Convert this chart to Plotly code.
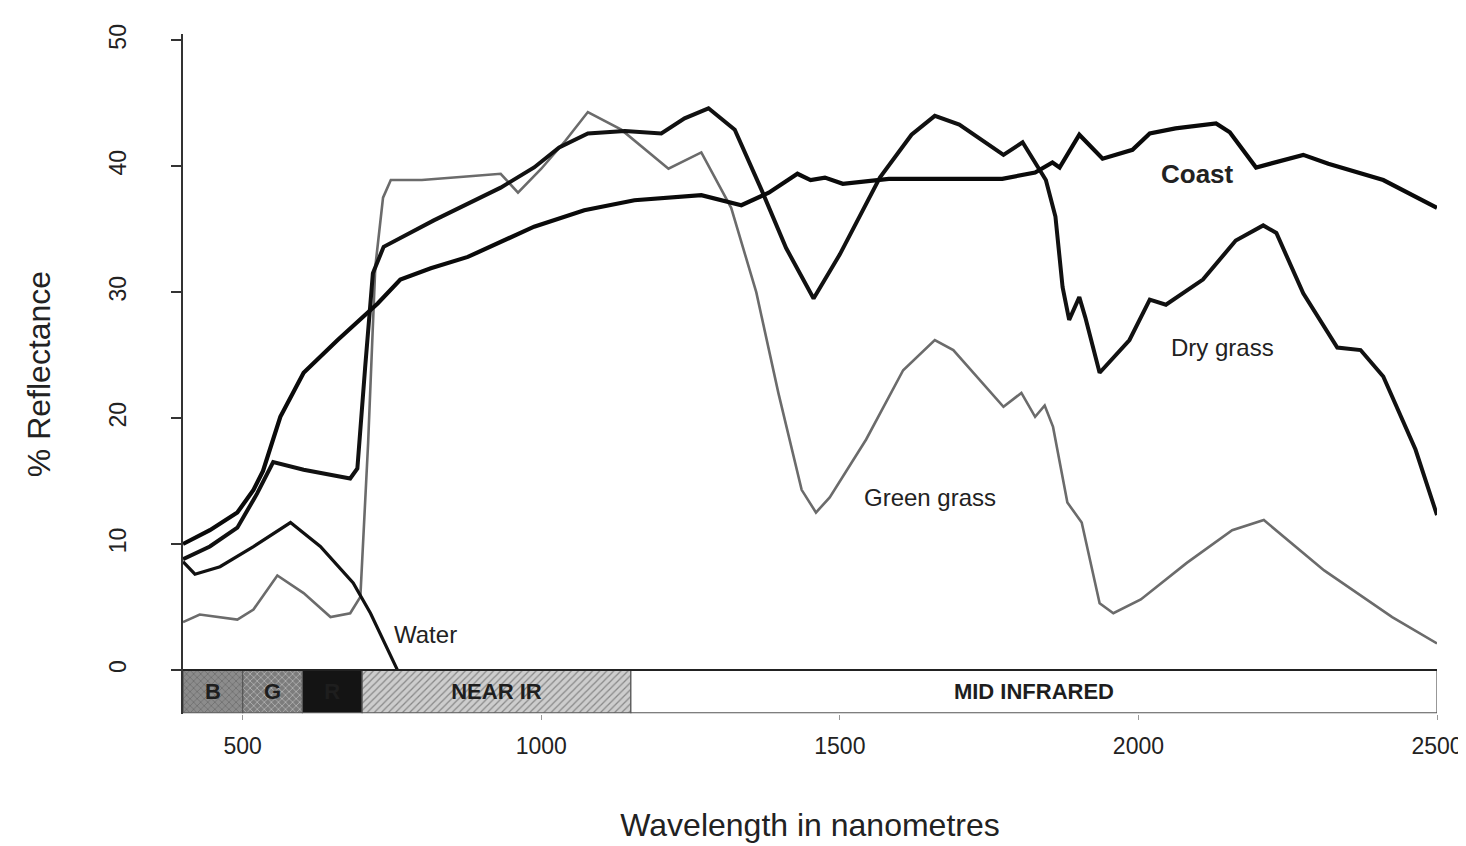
import plotly.graph_objects as go

# ---------------- data ----------------
coast_wl = [400, 445, 491, 518, 534, 563, 602, 659, 726, 764, 815, 877, 988, 1072, 1156, 1268,
            1335, 1381, 1429, 1451, 1475, 1505, 1582, 1700, 1772, 1827, 1856, 1868, 1901, 1940,
            1990, 2019, 2062, 2130, 2153, 2197, 2276, 2318, 2410, 2500]
coast_val = [10.0, 11.1, 12.5, 14.3, 15.8, 20.1, 23.6, 26.2, 29.1, 31.0, 31.9, 32.8, 35.2, 36.5, 37.3, 37.7,
             36.9, 37.9, 39.4, 38.9, 39.1, 38.6, 39.0, 39.0, 39.0, 39.5, 40.3, 39.9, 42.5, 40.6,
             41.3, 42.6, 43.0, 43.4, 42.7, 39.9, 40.9, 40.2, 38.9, 36.7]

dry_wl = [400, 445, 491, 524, 551, 602, 680, 692, 705, 718, 736, 820, 932, 988, 1030, 1078, 1140,
          1201, 1240, 1280, 1324, 1369, 1410, 1456, 1500, 1567, 1620, 1659, 1700, 1774, 1806, 1845,
          1861, 1873, 1884, 1901, 1911, 1935, 1985, 2019, 2046, 2108, 2163, 2209, 2231, 2276, 2333,
          2372, 2410, 2464, 2500]
dry_val = [8.8, 9.8, 11.3, 14.0, 16.5, 15.9, 15.2, 16.0, 24.0, 31.5, 33.6, 35.7, 38.3, 39.9, 41.5, 42.6, 42.8,
           42.6, 43.8, 44.6, 42.9, 38.1, 33.5, 29.5, 33.0, 39.1, 42.5, 44.0, 43.3, 40.9, 41.9, 38.9,
           36.0, 30.4, 27.8, 29.6, 28.0, 23.6, 26.2, 29.4, 29.0, 31.0, 34.1, 35.3, 34.7, 29.9, 25.6,
           25.4, 23.3, 17.5, 12.3]

green_wl = [400, 428, 491, 518, 558, 602, 647, 680, 697, 710, 722, 735, 748, 800, 880, 932, 961, 1000,
            1040, 1078, 1134, 1213, 1268, 1318, 1360, 1397, 1436, 1460, 1483, 1544, 1606, 1659, 1690,
            1774, 1804, 1827, 1843, 1857, 1881, 1905, 1935, 1958, 2004, 2081, 2157, 2210, 2311, 2425, 2500]
green_val = [3.8, 4.4, 4.0, 4.8, 7.5, 6.1, 4.2, 4.5, 5.8, 18.0, 32.0, 37.5, 38.9, 38.9, 39.2, 39.4, 37.9, 39.8,
             42.0, 44.3, 42.9, 39.8, 41.1, 36.7, 30.0, 22.0, 14.3, 12.5, 13.7, 18.3, 23.8, 26.2, 25.4,
             20.9, 22.0, 20.1, 21.0, 19.3, 13.3, 11.7, 5.3, 4.5, 5.6, 8.5, 11.1, 11.9, 7.9, 4.2, 2.1]

water_wl = [400, 420, 462, 518, 580, 630, 685, 714, 759]
water_val = [8.6, 7.6, 8.2, 9.8, 11.7, 9.8, 6.9, 4.5, 0.0]

band_names = ["B", "G", "R", "NEAR IR", "MID INFRARED"]
band_start = [400, 500, 600, 700, 1150]
band_end = [500, 600, 700, 1150, 2500]
band_colors = ["#8c8c8c", "#7c7c7c", "#141414", "#cdcdcd", "#ffffff"]
band_pattern = ["x", "x", "", "/", ""]
band_fg = ["#5a5a5a", "#4a4a4a", "#000000", "#8a8a8a", "#ffffff"]
band_bottom = -3.4

x_ticks = [500, 1000, 1500, 2000, 2500]
y_ticks = [0, 10, 20, 30, 40, 50]

labels = ["Coast", "Dry grass", "Green grass", "Water"]
label_x = [2099, 2140, 1651, 806]
label_y = [39.4, 25.6, 13.7, 2.8]

FONT = "Liberation Sans, Arial, sans-serif"

fig = go.Figure()

# spectral band bar below the axis
centers = [(s + e) / 2 for s, e in zip(band_start, band_end)]
widths = [e - s for s, e in zip(band_start, band_end)]
fig.add_trace(go.Bar(
    x=centers, y=[-band_bottom] * len(centers), base=[band_bottom] * len(centers), width=widths,
    marker=dict(color=band_colors, line=dict(color="#555555", width=1.2),
                pattern=dict(shape=band_pattern, fgcolor=band_fg, size=5, solidity=0.25)),
    text=["<b>%s</b>" % n for n in band_names], textposition="inside", insidetextanchor="middle",
    textangle=0, textfont=dict(family=FONT, size=22, color="#1e1e1e"), constraintext="none",
    showlegend=False, hoverinfo="skip", cliponaxis=False))

# spectra
fig.add_trace(go.Scatter(x=green_wl, y=green_val, mode="lines", name="Green grass",
                         line=dict(color="#6b6b6b", width=2.6)))
fig.add_trace(go.Scatter(x=water_wl, y=water_val, mode="lines", name="Water",
                         line=dict(color="#111111", width=3.2)))
fig.add_trace(go.Scatter(x=dry_wl, y=dry_val, mode="lines", name="Dry grass",
                         line=dict(color="#111111", width=4)))
fig.add_trace(go.Scatter(x=coast_wl, y=coast_val, mode="lines", name="Coast",
                         line=dict(color="#0a0a0a", width=4.2)))

# zero line across the plot
fig.add_shape(type="line", xref="x", yref="y", x0=385, x1=2500, y0=0, y1=0,
              line=dict(color="#222222", width=2))

for i, t in enumerate(labels):
    fig.add_annotation(x=label_x[i], y=label_y[i], text=("<b>%s</b>" % t) if t == "Coast" else t,
                       showarrow=False, xanchor="center", yanchor="middle",
                       font=dict(family=FONT, size=26 if t == "Coast" else 24, color="#222222"))

fig.update_layout(
    width=1466, height=846,
    margin=dict(l=175, r=37, t=26, b=140),
    paper_bgcolor="white", plot_bgcolor="white",
    showlegend=False, barmode="overlay",
    font=dict(family=FONT, color="#222222"),
)
fig.update_xaxes(range=[400, 2500], tickvals=x_ticks, ticktext=[str(v) for v in x_ticks],
                 automargin=False,
                 showgrid=False, zeroline=False, showline=False,
                 ticks="outside", ticklen=5, tickcolor="#999999",
                 tickfont=dict(family=FONT, size=23, color="#222222"), ticklabelstandoff=6,
                 title=dict(text="Wavelength in nanometres", standoff=56,
                            font=dict(family=FONT, size=32, color="#222222")))
fig.update_yaxes(range=[-3.5, 50.5], tickvals=y_ticks, ticktext=[str(v) for v in y_ticks],
                 automargin=False,
                 showgrid=False, zeroline=False, showline=True, linecolor="#333333", linewidth=2,
                 ticks="outside", ticklen=10, tickcolor="#333333", tickwidth=2, tickangle=-90,
                 tickfont=dict(family=FONT, size=23, color="#222222"), ticklabelstandoff=36,
                 title=dict(text="% Reflectance", standoff=45,
                            font=dict(family=FONT, size=32, color="#222222")))

fig.write_html("out.html")
